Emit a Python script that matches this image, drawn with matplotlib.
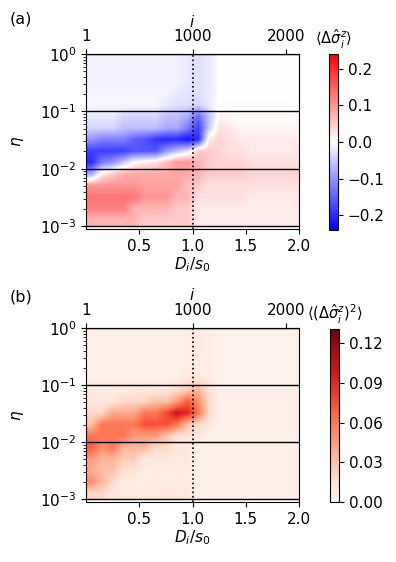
import numpy as np
import matplotlib
matplotlib.use("Agg")
import matplotlib.pyplot as plt

plt.rcParams['font.size'] = 11

# grid: D_i/s0 from 0 to 2 in 20 columns, log10(eta) from 0 down to -3 in 15 rows
x_range = [0, 2]
log_eta_range = [-3, 0]

top_ticks = [0, 1, 1.88]
top_labels = ['1', '1000', '2000']

# <Delta sigma_i^z>, rows from eta=1 (top) down to eta=1e-3
mean_rows = [
    [-0.012]*9 + [-0.02, -0.03, -0.02] + [0]*8,
    [-0.012]*9 + [-0.02, -0.03, -0.02] + [0]*8,
    [-0.012]*9 + [-0.02, -0.03, -0.02] + [0]*8,
    [-0.01]*8 + [-0.02, -0.025, -0.03, -0.02] + [0]*8,
    [-0.008]*7 + [-0.02, -0.03, -0.03, -0.04, -0.02] + [0.003]*8,
    [-0.02]*3 + [-0.04]*4 + [-0.06, -0.06, -0.08, -0.14, -0.06, 0.01] + [0.005]*7,
    [-0.04]*3 + [-0.06]*4 + [-0.08, -0.08, -0.12, -0.18, -0.05, 0.03, 0.02] + [0.01]*6,
    [-0.1, -0.12, -0.12, -0.12, -0.15, -0.16, -0.19, -0.2, -0.2, -0.22, -0.2, 0.02, 0.04, 0.03] + [0.02]*6,
    [-0.18]*4 + [-0.16]*3 + [-0.1, -0.06, -0.03, 0.05, 0.05, 0.04, 0.03, 0.03] + [0.02]*5,
    [-0.2, -0.12, -0.1, -0.05, 0.0, 0.02, 0.03, 0.06, 0.1, 0.1, 0.07, 0.05, 0.04, 0.04, 0.04] + [0.03]*5,
    [-0.08, 0.02, 0.05] + [0.08]*7 + [0.07, 0.05, 0.05, 0.05, 0.05] + [0.04]*5,
    [0.1]*5 + [0.09]*4 + [0.06, 0.05] + [0.03]*9,
    [0.13]*5 + [0.1]*3 + [0.07, 0.07] + [0.03]*5 + [0.02]*5,
    [0.12]*4 + [0.07]*4 + [0.05, 0.05] + [0.02]*10,
    [0.07]*5 + [0.05]*5 + [0.02]*10,
]

# <(Delta sigma_i^z)^2>
var_rows = [
    [0.004]*9 + [0.006, 0.008, 0.006] + [0.003]*8,
    [0.004]*9 + [0.006, 0.008, 0.006] + [0.003]*8,
    [0.004]*9 + [0.006, 0.008, 0.006] + [0.003]*8,
    [0.004]*9 + [0.006, 0.008, 0.006] + [0.003]*8,
    [0.005]*9 + [0.01, 0.012, 0.008] + [0.003]*8,
    [0.008]*4 + [0.012]*4 + [0.018, 0.025, 0.035, 0.015] + [0.004]*8,
    [0.012]*3 + [0.02]*3 + [0.03, 0.03, 0.045, 0.07, 0.05, 0.02] + [0.004]*8,
    [0.02, 0.02, 0.04, 0.04, 0.04, 0.06, 0.06, 0.075, 0.1, 0.09, 0.06, 0.02] + [0.004]*8,
    [0.03, 0.06, 0.06, 0.06, 0.06, 0.075, 0.075, 0.075, 0.06, 0.03, 0.02, 0.01] + [0.004]*8,
    [0.06]*4 + [0.045]*3 + [0.03, 0.015, 0.015, 0.01] + [0.004]*9,
    [0.07, 0.05, 0.06, 0.035, 0.035, 0.035, 0.02, 0.02, 0.01, 0.01] + [0.004]*10,
    [0.045, 0.035, 0.035, 0.025, 0.025] + [0.01]*5 + [0.004]*10,
    [0.04, 0.03, 0.03, 0.015, 0.015] + [0.008]*5 + [0.004]*10,
    [0.05, 0.035, 0.02] + [0.008]*7 + [0.004]*10,
    [0.02, 0.02] + [0.01]*8 + [0.004]*10,
]

fig = plt.figure(figsize=(3.96, 5.62), dpi=100)

panels = [
    ('(a)', mean_rows, 'bwr', -0.24, 0.24, [-0.2, -0.1, 0.0, 0.1, 0.2],
     r'$\langle\Delta\hat{\sigma}_i^z\rangle$',
     [0.2172, 0.5925, 0.5379, 0.3114], [0.8308, 0.5907, 0.0227, 0.3132], 0.966),
    ('(b)', var_rows, 'Reds', 0.0, 0.1306, [0.0, 0.03, 0.06, 0.09, 0.12],
     r'$\langle(\Delta\hat{\sigma}_i^z)^2\rangle$',
     [0.2172, 0.1068, 0.5379, 0.3096], [0.8333, 0.1068, 0.0227, 0.3078], 0.472),
]

# y axis is log10(eta); decade labels and minor ticks by hand
major = [-3, -2, -1, 0]
minor = [k + np.log10(m) for k in [-3, -2, -1] for m in range(2, 10)]

for tag, rows, cmap, vmin, vmax, cticks, clabel, apos, cpos, ytag in panels:
    ax = fig.add_axes(apos)
    img = ax.imshow(np.array(rows), extent=x_range + log_eta_range, origin='upper',
                    cmap=cmap, vmin=vmin, vmax=vmax, interpolation='bilinear',
                    aspect='auto')
    ax.set_xlim(0, 2)
    ax.set_ylim(-3.05, 0)
    for h in major:
        ax.axhline(h, color='black', lw=1)
    ax.axvline(1.0, color='black', ls=':', lw=1.2)
    ax.set_xticks([0.5, 1.0, 1.5, 2.0])
    ax.set_yticks(major)
    ax.set_yticklabels([r'$10^{%d}$' % k for k in major])
    ax.set_yticks(minor, minor=True)
    ax.set_xlabel(r'$D_i/s_0$', labelpad=1)
    ax.set_ylabel(r'$\eta$', labelpad=10)

    sec = ax.secondary_xaxis('top')
    sec.set_xticks(top_ticks)
    sec.set_xticklabels(top_labels)
    sec.set_xlabel(r'$i$', labelpad=2)

    cax = fig.add_axes(cpos)
    cb = fig.colorbar(img, cax=cax, ticks=cticks)
    cax.set_title(clabel, fontsize=10.5, pad=7)

    fig.text(0.025, ytag, tag, fontsize=11.5, va='center')

fig.savefig('out.png', dpi=100)
